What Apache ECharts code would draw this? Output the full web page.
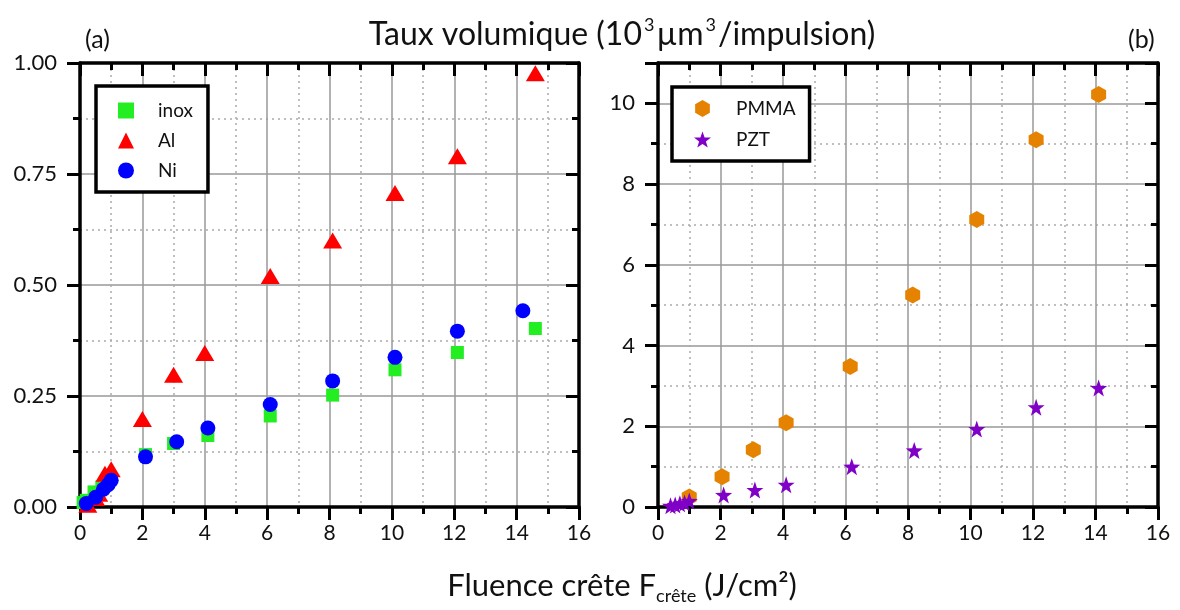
<!DOCTYPE html>
<html><head><meta charset="utf-8">
<script src="https://cdn.jsdelivr.net/npm/echarts@6/dist/echarts.min.js"></script>
<style>html,body{margin:0;padding:0;background:#fff}#c{width:1180px;height:610px}</style>
</head><body><div id="c"></div>
<script>
// ---- data ----
const xTicks = [0, 2, 4, 6, 8, 10, 12, 14, 16];
const leftYTicks = ['0.00', '0.25', '0.50', '0.75', '1.00'];
const rightYTicks = [0, 2, 4, 6, 8, 10];

const inoxX = [0.1, 0.2, 0.45, 0.7, 0.9, 2.1, 3.0, 4.1, 6.1, 8.1, 10.1, 12.1, 14.6];
const inoxY = [0.01, 0.015, 0.034, 0.045, 0.06, 0.118, 0.143, 0.161, 0.205, 0.252, 0.309, 0.348, 0.402];
const alX = [0.25, 0.5, 0.6, 0.8, 1.0, 2.0, 3.0, 4.0, 6.1, 8.1, 10.1, 12.1, 14.6];
const alY = [0.005, 0.02, 0.03, 0.075, 0.085, 0.198, 0.298, 0.347, 0.52, 0.60, 0.707, 0.79, 0.977];
const niX = [0.2, 0.5, 0.75, 0.9, 1.0, 2.1, 3.1, 4.1, 6.1, 8.1, 10.1, 12.1, 14.2];
const niY = [0.008, 0.022, 0.04, 0.05, 0.06, 0.113, 0.147, 0.178, 0.231, 0.284, 0.337, 0.396, 0.442];
const pmmaX = [1.0, 2.05, 3.05, 4.1, 6.15, 8.15, 10.2, 12.1, 14.1];
const pmmaY = [0.25, 0.75, 1.42, 2.09, 3.48, 5.25, 7.12, 9.1, 10.22];
const pztX = [0.4, 0.55, 0.7, 0.85, 1.0, 2.1, 3.1, 4.1, 6.2, 8.2, 10.2, 12.1, 14.1];
const pztY = [0.03, 0.05, 0.08, 0.1, 0.15, 0.3, 0.42, 0.55, 1.0, 1.4, 1.93, 2.47, 2.95];

const zip = (xs, ys) => xs.map((x, i) => [x, ys[i]]);

const FONT = 'Lato';
const HEX = 'path://M0,-10 L8.66,-5 L8.66,5 L0,10 L-8.66,5 L-8.66,-5 Z';
const STAR = 'path://M0,-10 L2.35,-3.24 L9.51,-3.09 L3.80,1.24 L5.88,8.09 L0,4 L-5.88,8.09 L-3.80,1.24 L-9.51,-3.09 L-2.35,-3.24 Z';

function xAx(grid, pos) {
  const bottom = pos === 'bottom';
  return {
    type: 'value', gridIndex: grid, position: pos, min: 0, max: 16, interval: 2,
    axisLine: { show: true, onZero: false, lineStyle: { color: '#000', width: 3.5 } },
    axisTick: { show: true, inside: !bottom, length: 13, lineStyle: { color: '#000', width: 3 } },
    minorTick: { show: true, splitNumber: 2, length: 7, lineStyle: { color: '#000', width: 3 } },
    axisLabel: { show: bottom, margin: 16, color: '#111', fontSize: 21, fontFamily: FONT,
      formatter: v => xTicks.indexOf(v) >= 0 ? String(v) : '' },
    splitLine: { show: bottom, lineStyle: { color: '#999', width: 1.5 } },
    minorSplitLine: { show: bottom, lineStyle: { color: '#aaa', width: 1.5, type: [2, 4] } }
  };
}
function yAx(grid, pos, max, interval, fmt) {
  const left = pos === 'left';
  return {
    type: 'value', gridIndex: grid, position: pos, min: 0, max: max, interval: interval,
    axisLine: { show: true, onZero: false, lineStyle: { color: '#000', width: 3.5 } },
    axisTick: { show: true, inside: !left, length: 13, lineStyle: { color: '#000', width: 3 } },
    minorTick: { show: true, splitNumber: 2, length: 7, lineStyle: { color: '#000', width: 3 } },
    axisLabel: { show: left, margin: 23, color: '#111', fontSize: 22, fontFamily: FONT, formatter: fmt },
    splitLine: { show: left, lineStyle: { color: '#999', width: 1.5 } },
    minorSplitLine: { show: left, lineStyle: { color: '#aaa', width: 1.5, type: [2, 4] } }
  };
}

const chart = echarts.init(document.getElementById('c'));
chart.setOption({
  animation: false,
  backgroundColor: '#fff',
  title: [
    { text: '{a|Taux volumique (10}{s|3}{a|µm}{s|3}{a|/impulsion)}', left: 617, top: 11, textAlign: 'center',
      textStyle: { fontWeight: 'normal', rich: { a: { fontSize: 32, fontWeight: 'normal', fontFamily: FONT, color: '#111' },
        s: { fontSize: 18, fontWeight: 'normal', fontFamily: FONT, color: '#111', padding: [0, 2, 19, 2] } } } },
    { text: '{a|Fluence crête F}{s|crête}{a| (J/cm²)}', left: 617, top: 562, textAlign: 'center',
      textStyle: { fontWeight: 'normal', rich: { a: { fontSize: 31, fontWeight: 'normal', fontFamily: FONT, color: '#111' },
        s: { fontSize: 18, fontWeight: 'normal', fontFamily: FONT, color: '#111', padding: [20, 0, 0, 0] } } } },
    { text: '(a)', left: 80, top: 22, textStyle: { fontSize: 25, fontWeight: 'normal', fontFamily: FONT, color: '#111' } },
    { text: '(b)', left: 1123, top: 22, textStyle: { fontSize: 25, fontWeight: 'normal', fontFamily: FONT, color: '#111' } }
  ],
  legend: [
    { data: ['inox', 'Al', 'Ni'], orient: 'vertical', left: 96, top: 86,
      padding: [15, 15, 12, 22], itemGap: 11, itemWidth: 16, itemHeight: 16,
      borderColor: '#000', borderWidth: 3.5, backgroundColor: '#fff',
      textStyle: { fontSize: 19, fontFamily: FONT, color: '#111', padding: [0, 0, 0, 19] } },
    { data: ['PMMA', 'PZT'], orient: 'vertical', left: 672, top: 87,
      padding: [12, 14, 12, 22], itemGap: 12, itemWidth: 17, itemHeight: 17,
      borderColor: '#000', borderWidth: 3.5, backgroundColor: '#fff',
      textStyle: { fontSize: 19, fontFamily: FONT, color: '#111', padding: [0, 0, 0, 20] } }
  ],
  grid: [
    { left: 80, right: 601, top: 63, bottom: 103 },
    { left: 658, right: 22, top: 63, bottom: 103 }
  ],
  xAxis: [xAx(0, 'bottom'), xAx(0, 'top'), xAx(1, 'bottom'), xAx(1, 'top')],
  yAxis: [
    yAx(0, 'left', 1, 0.25, v => v.toFixed(2)),
    yAx(0, 'right', 1, 0.25, v => v.toFixed(2)),
    yAx(1, 'left', 11, 2, v => rightYTicks.indexOf(v) >= 0 ? String(v) : ''),
    yAx(1, 'right', 11, 2, v => '')
  ],
  series: [
    { name: 'inox', type: 'scatter', xAxisIndex: 0, yAxisIndex: 0, symbol: 'rect', symbolSize: 13,
      itemStyle: { color: '#22ee22', opacity: 1 }, data: zip(inoxX, inoxY), clip: false, z: 3 },
    { name: 'Al', type: 'scatter', xAxisIndex: 0, yAxisIndex: 0, symbol: 'triangle', symbolSize: [19, 16],
      itemStyle: { color: '#ff0000', opacity: 1 }, data: zip(alX, alY), clip: false, z: 4 },
    { name: 'Ni', type: 'scatter', xAxisIndex: 0, yAxisIndex: 0, symbol: 'circle', symbolSize: 15,
      itemStyle: { color: '#0000ff', opacity: 1 }, data: zip(niX, niY), clip: false, z: 5 },
    { name: 'PMMA', type: 'scatter', xAxisIndex: 2, yAxisIndex: 2, symbol: HEX, symbolSize: [15, 17],
      itemStyle: { color: '#e58200', opacity: 1 }, data: zip(pmmaX, pmmaY), clip: false, z: 3 },
    { name: 'PZT', type: 'scatter', xAxisIndex: 2, yAxisIndex: 2, symbol: STAR, symbolSize: 17,
      itemStyle: { color: '#8000c8', opacity: 1 }, data: zip(pztX, pztY), clip: false, z: 4 }
  ]
});
</script></body></html>
